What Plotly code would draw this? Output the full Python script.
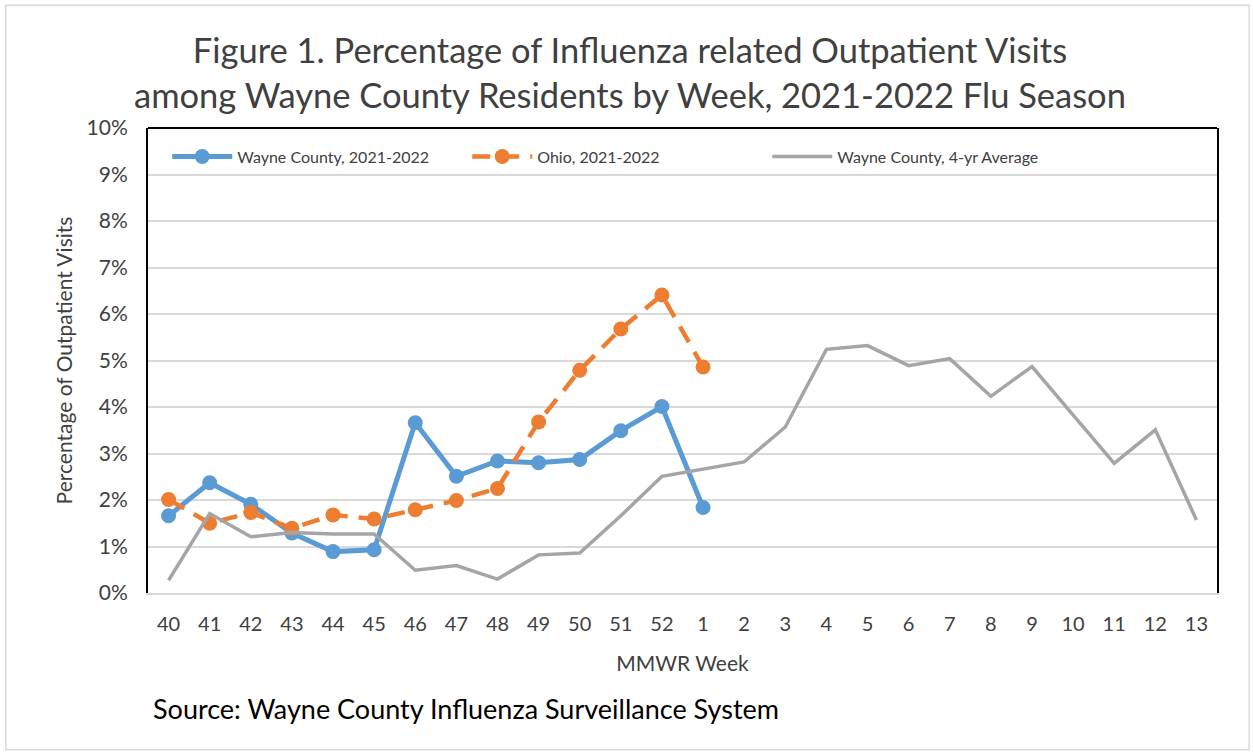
import plotly.graph_objects as go

# MMWR weeks for the 2021-2022 season
weeks = ["40", "41", "42", "43", "44", "45", "46", "47", "48", "49", "50", "51", "52",
         "1", "2", "3", "4", "5", "6", "7", "8", "9", "10", "11", "12", "13"]

# percentages
wayne_2122 = [1.66, 2.37, 1.91, 1.29, 0.89, 0.93, 3.66, 2.51, 2.84, 2.80, 2.87, 3.49, 4.01, 1.84]
ohio_2122 = [2.01, 1.50, 1.73, 1.39, 1.68, 1.59, 1.79, 1.99, 2.25, 3.68, 4.79, 5.68, 6.41, 4.86]
wayne_4yr = [0.27, 1.71, 1.21, 1.30, 1.27, 1.27, 0.49, 0.59, 0.30, 0.82, 0.86, 1.66, 2.51,
             2.66, 2.82, 3.57, 5.24, 5.32, 4.89, 5.04, 4.23, 4.87, 3.84, 2.79, 3.51, 1.57]

y_ticks = [0, 1, 2, 3, 4, 5, 6, 7, 8, 9, 10]
y_labels = [f"{v}%" for v in y_ticks]

FONT = "Lato"
TXT = "#404040"

fig = go.Figure()

fig.add_trace(go.Scatter(
    x=weeks[:len(wayne_2122)], y=wayne_2122, name="Wayne County, 2021-2022",
    mode="lines+markers",
    line=dict(color="#5B9BD5", width=5),
    marker=dict(color="#5B9BD5", size=15),
))
fig.add_trace(go.Scatter(
    x=weeks[:len(ohio_2122)], y=ohio_2122, name="Ohio, 2021-2022",
    mode="lines+markers",
    line=dict(color="#ED7D31", width=4.5, dash="18px,11px"),
    marker=dict(color="#ED7D31", size=15),
))
fig.add_trace(go.Scatter(
    x=weeks[:len(wayne_4yr)], y=wayne_4yr, name="Wayne County, 4-yr Average",
    mode="lines",
    line=dict(color="#A5A5A5", width=3.5),
))

# plot area: x 148..1217, y 128..593 on a 1253x754 page
fig.update_layout(
    width=1253, height=754,
    margin=dict(l=148, r=36, t=128, b=161),
    paper_bgcolor="white", plot_bgcolor="white",
    font=dict(family=FONT, color=TXT, size=20),
    showlegend=True,
    legend=dict(
        orientation="h", x=0.018, y=0.975, xanchor="left", yanchor="top",
        bgcolor="rgba(0,0,0,0)", font=dict(size=16, color=TXT),
        entrywidth=225, entrywidthmode="pixels", itemwidth=60,
    ),
    xaxis=dict(
        type="category", categoryorder="array", categoryarray=weeks,
        range=[-0.5, len(weeks) - 0.5],
        showgrid=False, showline=True, linecolor="#d9d9d9", linewidth=2,
        ticks="", tickfont=dict(size=20, color=TXT), ticklabelstandoff=12,
        title=dict(text="MMWR Week", font=dict(size=21, color=TXT), standoff=22),
    ),
    yaxis=dict(
        range=[0, 10], tickvals=y_ticks, ticktext=y_labels,
        showgrid=True, gridcolor="#d9d9d9", gridwidth=1.5,
        showline=True, linecolor="black", linewidth=2, mirror=True,
        zeroline=False, ticks="", tickfont=dict(size=21, color=TXT),
        ticklabelstandoff=14,
        title=dict(text="Percentage of Outpatient Visits", font=dict(size=21, color=TXT), standoff=8),
    ),
)

# black top edge of the plot frame
fig.add_shape(type="line", xref="paper", yref="paper", x0=0, x1=1, y0=1, y1=1,
              line=dict(color="black", width=2))
# thin outer chart border
fig.add_shape(type="rect", xref="paper", yref="paper",
              x0=-0.133, x1=1.030, y0=-0.337, y1=1.264,
              line=dict(color="#d9d9d9", width=1.5))

fig.add_annotation(
    text="Figure 1. Percentage of Influenza related Outpatient Visits<br>among Wayne County Residents by Week, 2021-2022 Flu Season",
    xref="paper", yref="paper", x=0.451, y=1.12, xanchor="center", yanchor="middle",
    showarrow=False, font=dict(family=FONT, size=34.5, color=TXT),
)
fig.add_annotation(
    text="Source: Wayne County Influenza Surveillance System",
    xref="paper", yref="paper", x=0.003, y=-0.248, xanchor="left", yanchor="middle",
    showarrow=False, font=dict(family=FONT, size=27, color="black"),
)

# page body has an 8px default margin; drop it so the figure sits at 0,0
fig.write_html("out.html", config={"displayModeBar": False},
               post_script="document.body.style.margin='0';")
